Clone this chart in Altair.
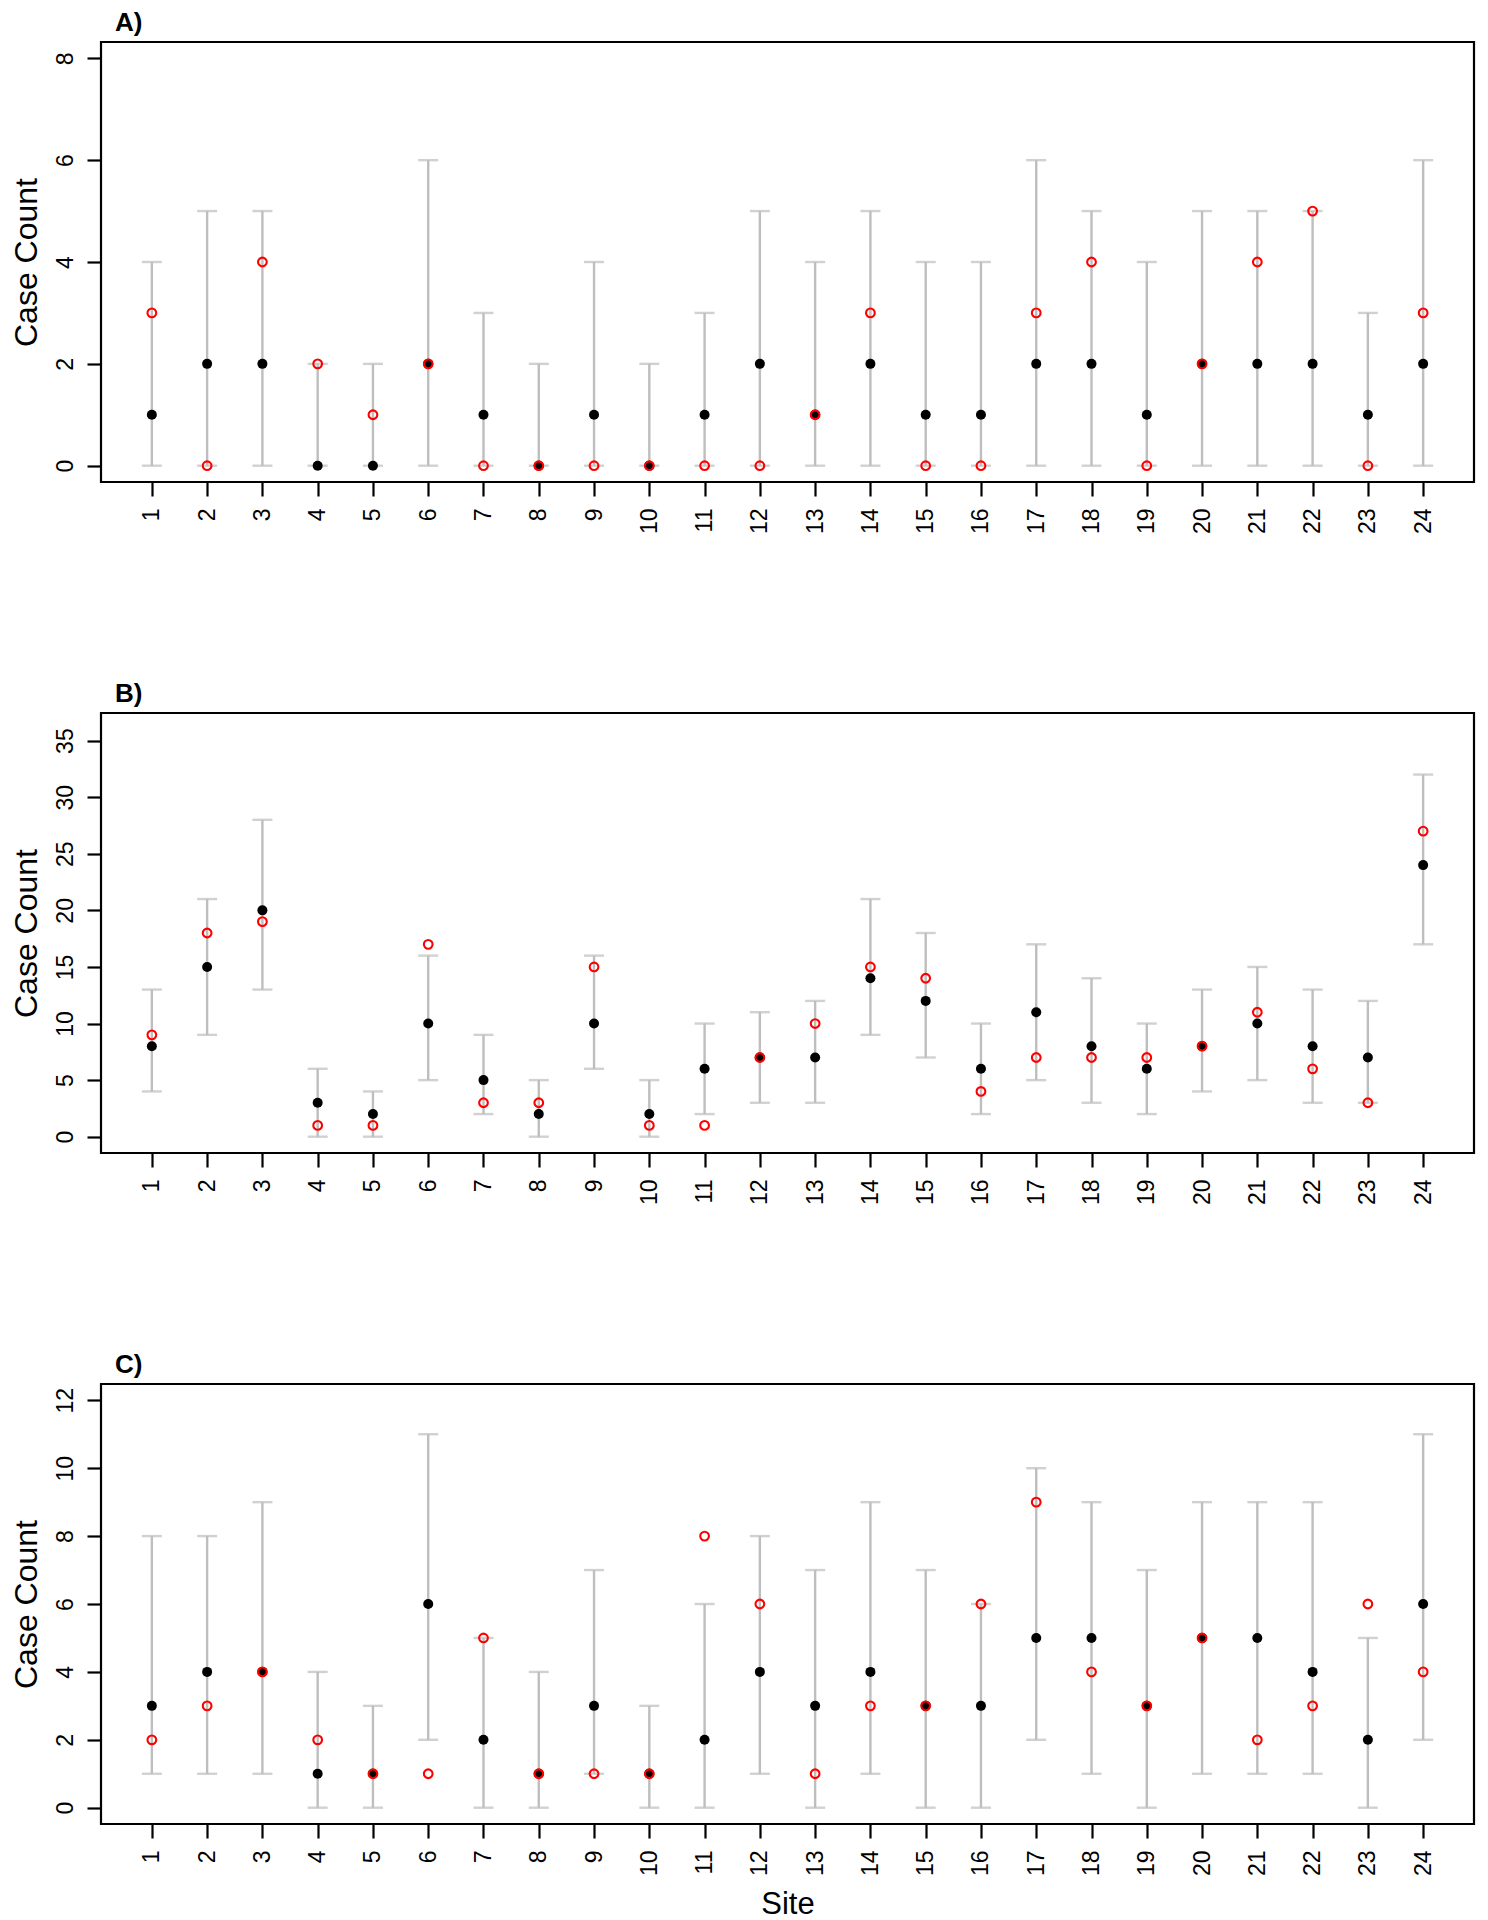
import altair as alt
import pandas as pd

sites = list(range(1, 25))

# Panel A
a_black = [1, 2, 2, 0, 0, 2, 1, 0, 1, 0, 1, 2, 1, 2, 1, 1, 2, 2, 1, 2, 2, 2, 1, 2]
a_red = [3, 0, 4, 2, 1, 2, 0, 0, 0, 0, 0, 0, 1, 3, 0, 0, 3, 4, 0, 2, 4, 5, 0, 3]
a_lo = [0] * 24
a_hi = [4, 5, 5, 2, 2, 6, 3, 2, 4, 2, 3, 5, 4, 5, 4, 4, 6, 5, 4, 5, 5, 5, 3, 6]

# Panel B
b_black = [8, 15, 20, 3, 2, 10, 5, 2, 10, 2, 6, 7, 7, 14, 12, 6, 11, 8, 6, 8, 10, 8, 7, 24]
b_red = [9, 18, 19, 1, 1, 17, 3, 3, 15, 1, 1, 7, 10, 15, 14, 4, 7, 7, 7, 8, 11, 6, 3, 27]
b_lo = [4, 9, 13, 0, 0, 5, 2, 0, 6, 0, 2, 3, 3, 9, 7, 2, 5, 3, 2, 4, 5, 3, 3, 17]
b_hi = [13, 21, 28, 6, 4, 16, 9, 5, 16, 5, 10, 11, 12, 21, 18, 10, 17, 14, 10, 13, 15, 13, 12, 32]

# Panel C
c_black = [3, 4, 4, 1, 1, 6, 2, 1, 3, 1, 2, 4, 3, 4, 3, 3, 5, 5, 3, 5, 5, 4, 2, 6]
c_red = [2, 3, 4, 2, 1, 1, 5, 1, 1, 1, 8, 6, 1, 3, 3, 6, 9, 4, 3, 5, 2, 3, 6, 4]
c_lo = [1, 1, 1, 0, 0, 2, 0, 0, 1, 0, 0, 1, 0, 1, 0, 0, 2, 1, 0, 1, 1, 1, 0, 2]
c_hi = [8, 8, 9, 4, 3, 11, 5, 4, 7, 3, 6, 8, 7, 9, 7, 6, 10, 9, 7, 9, 9, 9, 5, 11]

panel_titles = ["A)", "B)", "C)"]
y_ticks = [[0, 2, 4, 6, 8], [0, 5, 10, 15, 20, 25, 30, 35], [0, 2, 4, 6, 8, 10, 12]]
y_domains = [[-0.32, 8.32], [-1.44, 37.44], [-0.48, 12.48]]

FONT = "Liberation Sans"
GRAY = "#BEBEBE"
W, H = 1373, 440


def panel(black, red, lo, hi, title, yticks, ydom, show_xtitle):
    df = pd.DataFrame({"site": sites, "black": black, "red": red, "lo": lo, "hi": hi})
    x = alt.X(
        "site:Q",
        scale=alt.Scale(domain=[0.08, 24.92], nice=False, zero=False),
        axis=alt.Axis(
            values=sites, format="d", labelAngle=270, labelAlign="right",
            labelBaseline="middle", grid=False, domain=False,
            tickSize=14, tickWidth=2.2, tickColor="black", labelPadding=12,
            labelFontSize=23, labelFont=FONT, labelColor="black",
            title="Site" if show_xtitle else None,
            titleFontSize=31, titleFont=FONT, titleFontWeight="normal",
            titleColor="black", titlePadding=14,
        ),
    )
    y_axis = alt.Axis(
        values=yticks, labelAngle=270, labelAlign="center",
        labelBaseline="alphabetic", grid=False, domain=False,
        tickSize=14, tickWidth=2.2, tickColor="black", labelPadding=15,
        labelFontSize=23, labelFont=FONT, labelColor="black",
        title="Case Count", titleFontSize=32, titleFont=FONT,
        titleFontWeight="normal", titleColor="black", titlePadding=11,
    )
    yscale = alt.Scale(domain=ydom, nice=False, zero=False)
    base = alt.Chart(df)
    bars = base.mark_rule(color=GRAY, strokeWidth=2.4).encode(
        x=x, y=alt.Y("lo:Q", scale=yscale, axis=y_axis), y2="hi:Q"
    )
    cap_lo = base.mark_tick(color=GRAY, orient="horizontal", size=20, thickness=2.4).encode(
        x="site:Q", y="lo:Q"
    )
    cap_hi = base.mark_tick(color=GRAY, orient="horizontal", size=20, thickness=2.4).encode(
        x="site:Q", y="hi:Q"
    )
    dots = base.mark_point(shape="circle", filled=True, color="black", size=100, opacity=1).encode(
        x="site:Q", y="black:Q"
    )
    rings = base.mark_point(shape="circle", filled=False, color="#FF0000", size=76,
                            strokeWidth=2.1, opacity=1).encode(
        x="site:Q", y="red:Q"
    )
    return alt.layer(bars, cap_lo, cap_hi, dots, rings).properties(
        width=W, height=H,
        title=alt.TitleParams(
            title, anchor="start", frame="group", dx=14, offset=6,
            fontSize=26, fontWeight="bold", font=FONT, color="black",
        ),
    )


pa = panel(a_black, a_red, a_lo, a_hi, panel_titles[0], y_ticks[0], y_domains[0], False)
pb = panel(b_black, b_red, b_lo, b_hi, panel_titles[1], y_ticks[1], y_domains[1], False)
pc = panel(c_black, c_red, c_lo, c_hi, panel_titles[2], y_ticks[2], y_domains[2], True)

chart = (
    alt.vconcat(pa, pb, pc, spacing=144)
    .resolve_scale(x="independent", y="independent")
    .properties(padding={"left": 0, "top": 0, "right": 0, "bottom": 0}, background="white")
    .configure_view(stroke="black", strokeWidth=2.2)
)

chart.save("out.html", embed_options={"renderer": "svg", "actions": False})
